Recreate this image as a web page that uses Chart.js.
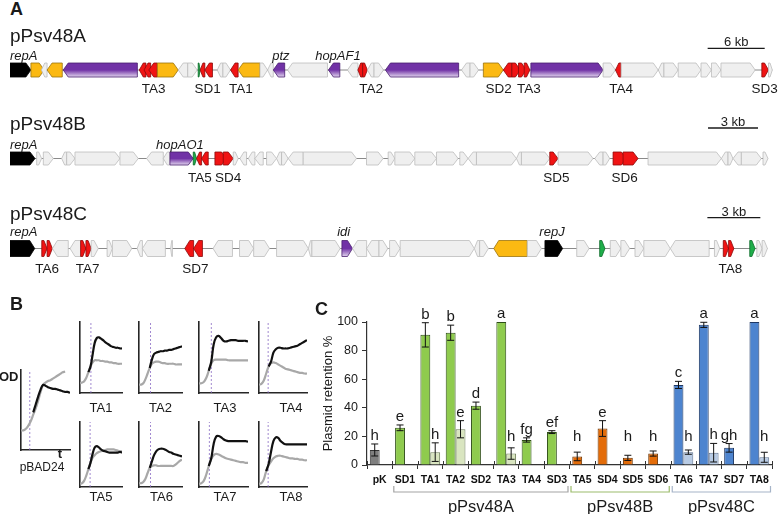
<!DOCTYPE html>
<html>
<head>
<meta charset="utf-8">
<script src="https://cdn.jsdelivr.net/npm/chart.js@4.4.0/dist/chart.umd.min.js"></script>
<style>
body { margin: 0; width: 778px; height: 514px; overflow: hidden; background: #fff; position: relative;
       font-family: "Liberation Sans", Arial, sans-serif; color: #1a1a1a; }
canvas { position: absolute; }
.t { position: absolute; line-height: 1; white-space: nowrap; }
</style>
</head>
<body>
<script>
// ---------- Panel A: gene maps (start kb, end kb, strand, kind) ----------
const genesA = [
  [0,2.2,1,'k'],[2.2,3.6,1,'y'],[3.3,3.9,-1,'g'],[3.9,5.5,-1,'y'],[5.6,13.4,-1,'p'],
  [13.6,14.3,-1,'r'],[14.1,14.8,-1,'r'],[14.6,15.5,-1,'r'],[15.5,17.7,1,'y'],
  [17.7,18.7,-1,'g'],[18.7,19.7,1,'g'],[19.8,20.0,1,'G'],[20.0,20.5,-1,'r'],[20.5,21.3,-1,'r'],
  [21.8,22.4,-1,'g'],[22.4,23.2,1,'g'],[23.2,24.0,-1,'r'],[24.0,26.3,-1,'y'],[26.3,27.1,1,'g'],[27.1,27.7,-1,'g'],
  [27.7,28.9,-1,'p'],[29.2,33.4,-1,'g'],[33.5,34.7,-1,'p'],[35.5,36.6,-1,'g'],[36.6,37.1,-1,'r'],[37.1,37.6,1,'r'],
  [37.6,38.3,-1,'g'],[38.3,39.3,1,'g'],[39.5,47.2,-1,'p'],[47.5,48.4,-1,'g'],[48.4,49.3,1,'g'],[49.8,51.9,1,'y'],
  [51.9,52.8,-1,'r'],[52.8,53.7,1,'r'],[53.5,54.3,1,'r'],[54.1,54.7,1,'r'],[54.8,62.4,1,'p'],[62.4,63.7,1,'g'],
  [63.7,64.3,-1,'r'],[64.3,68.2,1,'g'],[68.2,68.8,-1,'g'],[68.8,70.3,1,'g'],[70.3,72.7,1,'g'],[72.7,73.8,1,'g'],
  [73.8,74.8,1,'g'],[74.8,78.4,1,'g'],[79.1,79.8,1,'r'],[79.8,80.2,1,'g']
];
const labelsA = [['TA3',15.1],['SD1',20.8],['TA1',24.3],['TA2',38.0],['SD2',51.4],['TA3',54.6],['TA4',64.3],['SD3',79.4]];
const namesA = [['repA',0],['ptz',28.5],['hopAF1',34.5]];
const scaleBarA = [73.4, 79.4, '6 kb'];

const genesB = [
  [0,1.5,1,'k'],[1.6,1.9,1,'g'],[2.0,2.6,1,'g'],[3.1,3.4,-1,'g'],[3.4,3.9,1,'g'],[3.9,6.6,1,'g'],[6.6,7.7,1,'g'],
  [8.2,9.2,-1,'g'],[9.2,9.6,-1,'g'],[9.6,11.0,1,'p'],[11.0,11.2,1,'G'],[11.2,11.5,-1,'r'],[11.5,11.9,-1,'r'],
  [12.3,13.0,1,'r'],[12.8,13.4,1,'r'],[13.4,13.7,1,'g'],[13.8,14.2,-1,'g'],[14.3,14.7,-1,'g'],[14.7,15.2,-1,'g'],
  [15.4,16.0,1,'g'],[16.0,16.3,-1,'g'],[16.3,16.7,1,'g'],[16.7,17.6,-1,'g'],[17.6,20.8,1,'g'],[21.4,22.4,1,'g'],
  [22.7,23.1,1,'g'],[23.1,24.3,1,'g'],[24.3,25.6,1,'g'],[25.6,26.9,1,'g'],[27.0,27.5,1,'g'],[27.5,28.0,-1,'g'],
  [28.0,30.4,1,'g'],[30.4,30.7,-1,'g'],[30.7,32.4,1,'g'],[32.4,32.9,1,'r'],[32.9,35.0,1,'g'],[35.1,35.6,-1,'g'],
  [35.6,36.0,1,'g'],[36.2,37.0,1,'r'],[36.8,37.7,1,'r'],[38.3,42.7,1,'g'],[42.7,43.1,-1,'g'],[43.1,43.4,1,'g'],
  [43.4,43.9,-1,'g'],[43.9,45.1,1,'g'],[45.2,45.5,1,'g']
];
const labelsB = [['TA5',11.4],['SD4',13.1],['SD5',32.8],['SD6',36.9]];
const namesB = [['repA',0],['hopAO1',10.2]];
const scaleBarB = [41.9, 44.9, '3 kb'];

const genesC = [
  [0,1.4,1,'k'],[1.8,2.1,1,'r'],[2.1,2.4,1,'r'],[2.4,3.3,-1,'g'],[3.4,4.0,-1,'g'],[4.0,4.3,1,'r'],[4.3,4.6,1,'r'],[4.6,5.0,1,'g'],
  [5.5,5.8,1,'g'],[5.8,6.9,1,'g'],[7.2,7.5,-1,'g'],[7.5,8.8,-1,'g'],[9.1,9.2,-1,'g'],[9.9,10.4,-1,'r'],[10.4,10.9,-1,'r'],
  [11.5,12.6,-1,'g'],[13.0,13.8,1,'g'],[13.8,14.7,1,'g'],[15.1,16.9,1,'g'],[16.9,17.1,-1,'g'],[17.1,18.7,1,'g'],
  [18.8,19.4,1,'p'],[19.4,20.2,-1,'g'],[20.2,20.9,-1,'g'],[20.9,21.4,1,'g'],[21.5,22.1,1,'g'],[22.1,26.3,1,'g'],
  [26.3,26.6,-1,'g'],[26.6,27.1,1,'g'],[27.4,29.3,-1,'y'],[29.3,30.1,1,'g'],[30.3,31.3,1,'k'],[32.1,32.8,1,'g'],
  [33.4,33.7,1,'G'],[34.0,34.6,1,'g'],[34.6,35.1,1,'g'],[35.4,35.9,1,'g'],[35.9,37.4,1,'g'],[37.4,39.6,-1,'g'],
  [39.9,40.2,1,'g'],[40.4,40.7,1,'r'],[40.7,41.0,1,'r'],[41.9,42.2,1,'G'],[42.3,42.6,1,'g'],[42.6,42.9,1,'g']
];
const labelsC = [['TA6',2.1],['TA7',4.4],['SD7',10.5],['TA8',40.8]];
const namesC = [['repA',0],['idi',18.9],['repJ',30.7]];
const scaleBarC = [39.5, 42.5, '3 kb'];

// ---------- Panel B: growth curves (OD, relative units) ----------
const odTime = [0,5,10,15,20,25,30,35,40,45,50,55,60,65,70,75,80,85,90,95,100];
const grayPBAD = [.25,.25,.27,.31,.37,.45,.53,.63,.74,.83,.86,.88,.89,.91,.93,.95,.97,.99,1.0,null,null];
const blackPBAD = [null,null,null,null,null,.48,.58,.68,.77,.83,.82,.80,.79,.78,.78,.77,.76,.75,.74,.74,.73];
const grayTA1 = [.14,.15,.17,.22,.30,.38,.44,.47,.47,.47,.46,.46,.45,.45,.44,.44,.43,.43,.42,.42,.42];
const blackTA1 = [null,null,null,null,.30,.38,.55,.72,.79,.80,.78,.76,.73,.71,.69,.67,.66,.65,.65,.64,.64];
const grayTA2 = [.12,.12,.14,.20,.28,.36,.42,.44,.45,.45,.44,.43,.43,.42,.42,.42,.42,.41,.41,.41,.41];
const blackTA2 = [null,null,null,null,null,.36,.48,.56,.58,.59,.60,.60,.61,.61,.62,.62,.63,.64,.65,.66,.67];
const grayTA3 = [.14,.14,.16,.22,.32,.42,.47,.48,.48,.48,.48,.48,.47,.47,.47,.47,.47,.47,.47,.47,.47];
const blackTA3 = [null,null,null,null,.32,.45,.70,.80,.82,.79,.75,.74,.75,.76,.76,.76,.75,.75,.75,.75,.74];
const grayTA4 = [.12,.13,.18,.28,.38,.43,.44,.43,.41,.39,.37,.35,.34,.33,.32,.31,.30,.29,.29,.28,.28];
const blackTA4 = [null,null,null,null,.38,.45,.58,.63,.65,.65,.64,.64,.64,.65,.66,.67,.68,.70,.72,.74,.76];
const grayTA5 = [.05,.06,.10,.18,.28,.38,.46,.50,.53,.55,.56,.57,.58,.59,.59,.59,.59,.58,.57,.56,.56];
const blackTA5 = [null,null,null,null,.28,.38,.52,.62,.64,.62,.59,.57,.56,.55,.54,.54,.54,.54,.54,.55,.54];
const grayTA6 = [.06,.06,.08,.13,.22,.30,.33,.34,.34,.33,.33,.33,.33,.33,.33,.33,.33,.35,.38,.41,.43];
const blackTA6 = [null,null,null,null,null,.30,.40,.50,.56,.59,.60,.60,.59,.57,.55,.54,.52,.51,.50,.49,.48];
const grayTA7 = [.05,.06,.10,.20,.33,.44,.50,.52,.51,.49,.47,.45,.44,.43,.42,.41,.40,.39,.39,.38,.38];
const blackTA7 = [null,null,null,null,.33,.45,.68,.79,.80,.78,.75,.73,.72,.72,.72,.72,.72,.72,.72,.72,.71];
const grayTA8 = [.05,.06,.12,.25,.34,.40,.45,.48,.49,.49,.48,.47,.46,.45,.45,.44,.44,.43,.43,.42,.42];
const blackTA8 = [null,null,null,.25,.36,.55,.72,.78,.77,.72,.69,.67,.67,.67,.67,.67,.67,.67,.67,.67,.67];
const inductionTime = [18, 26, 27, 25, 19, 24, 27, 21, 19];

// ---------- Panel C: plasmid retention ----------
const retCats = ['pK','SD1','TA1','TA2','SD2','TA3','TA4','SD3','TA5','SD4','SD5','SD6','TA6','TA7','SD7','TA8'];
const retMain = [10.5,26,91,92.5,41.5,100,17.5,23,6,25.5,5,8,56,98,12,100];
const retMainErr = [4.2,2,8.5,5.3,2.5,0,1.5,1,3,5.5,1.8,1.8,2.5,1.8,3,0];
const retLight = [null,null,9,25,null,8,null,null,null,null,null,null,9,8.6,null,5.4];
const retLightErr = [null,null,6.5,6,null,4,null,null,null,null,null,null,1.5,6.5,null,3.5];
const retMainLetters = ['h','e','b','b','d','a','fg','ef','h','e','h','h','c','a','gh','a'];
const retLightLetters = [null,null,'h','e',null,'h',null,null,null,null,null,null,'h','h',null,'h'];
const plasmidNames = ['pPsv48A','pPsv48B','pPsv48C'];
const plasmidFirst = [1, 8, 12];
const plasmidLast = [7, 11, 15];

// ---------- helpers ----------
const FONT = '"Liberation Sans", Arial, sans-serif';
Chart.defaults.font.family = FONT;
Chart.defaults.color = '#1a1a1a';

function addText(str, x, cy, size, opt = {}) {
  const d = document.createElement('div');
  d.className = 't';
  d.textContent = str;
  d.style.fontSize = size + 'px';
  d.style.top = (cy - size / 2) + 'px';
  d.style.left = x + 'px';
  if (opt.bold) d.style.fontWeight = 'bold';
  if (opt.center) d.style.transform = 'translateX(-50%)';
  document.body.appendChild(d);
}

function makeCanvas(x, y, w, h) {
  const c = document.createElement('canvas');
  c.width = w; c.height = h;
  c.style.left = x + 'px'; c.style.top = y + 'px';
  c.style.width = w + 'px'; c.style.height = h + 'px';
  document.body.appendChild(c);
  return c;
}

const geneFill = { k: '#000000', y: '#fbb912', r: '#f01414', G: '#1fae4a', g: '#efefef' };
const geneLine = { k: '#000000', y: '#9a7410', r: '#8a0a0a', G: '#0c6a2a', p: '#4a1f70', g: '#bdbdbd' };

// draws genes, labels and scale bar with the chart's x scale (kb)
const geneMapPlugin = {
  id: 'geneMap',
  afterDraw(chart, args, o) {
    const ctx = chart.ctx, xs = chart.scales.x, top = chart.chartArea.top;
    const px = v => xs.getPixelForValue(v);
    const yc = top + o.yTrack, h = o.h;
    ctx.save();
    // backbone
    ctx.strokeStyle = '#8a8a8a'; ctx.lineWidth = 1;
    ctx.beginPath(); ctx.moveTo(px(0), yc); ctx.lineTo(px(o.genes[o.genes.length - 1][1]), yc); ctx.stroke();
    // genes
    o.genes.forEach(g => {
      const x0 = px(g[0]), x1 = px(g[1]), tip = Math.min(5, (x1 - x0) * 0.6);
      ctx.beginPath();
      if (g[2] > 0) {
        ctx.moveTo(x0, yc - h / 2); ctx.lineTo(x1 - tip, yc - h / 2); ctx.lineTo(x1, yc);
        ctx.lineTo(x1 - tip, yc + h / 2); ctx.lineTo(x0, yc + h / 2);
      } else {
        ctx.moveTo(x1, yc - h / 2); ctx.lineTo(x0 + tip, yc - h / 2); ctx.lineTo(x0, yc);
        ctx.lineTo(x0 + tip, yc + h / 2); ctx.lineTo(x1, yc + h / 2);
      }
      ctx.closePath();
      if (g[3] === 'p') {
        const gr = ctx.createLinearGradient(0, yc - h / 2, 0, yc + h / 2);
        gr.addColorStop(0, '#7132a6'); gr.addColorStop(0.5, '#7132a6'); gr.addColorStop(1, '#e2d6ee');
        ctx.fillStyle = gr;
      } else {
        ctx.fillStyle = geneFill[g[3]];
      }
      ctx.fill();
      ctx.strokeStyle = geneLine[g[3]]; ctx.lineWidth = 0.8; ctx.stroke();
    });
    // labels under the map
    ctx.fillStyle = '#1a1a1a';
    ctx.textBaseline = 'alphabetic'; ctx.textAlign = 'center';
    ctx.font = '13.5px ' + FONT;
    o.labels.forEach(l => ctx.fillText(l[0], px(l[1]), top + o.yLabel));
    // gene names above
    ctx.font = 'italic 13px ' + FONT;
    o.names.forEach(n => {
      ctx.textAlign = n[1] === 0 ? 'left' : 'center';
      ctx.fillText(n[0], px(n[1]), top + o.yName);
    });
    // scale bar
    const sb = o.scaleBar;
    ctx.strokeStyle = '#1a1a1a'; ctx.lineWidth = 1.3;
    ctx.beginPath(); ctx.moveTo(px(sb[0]), top + o.yBar); ctx.lineTo(px(sb[1]), top + o.yBar); ctx.stroke();
    ctx.textAlign = 'center'; ctx.font = '13px ' + FONT;
    ctx.fillText(sb[2], (px(sb[0]) + px(sb[1])) / 2, top + o.yBarText);
    ctx.restore();
  }
};

function geneMap(y, height, maxKb, cfg) {
  new Chart(makeCanvas(10, y, 768, height), {
    type: 'scatter',
    data: { datasets: [{ data: [] }] },
    options: {
      responsive: false, animation: false, devicePixelRatio: 1,
      layout: { padding: 0 },
      plugins: { legend: { display: false }, tooltip: { enabled: false }, geneMap: cfg },
      scales: {
        x: { type: 'linear', min: 0, max: maxKb, display: false },
        y: { min: 0, max: 1, display: false }
      }
    },
    plugins: [geneMapPlugin]
  });
}

geneMap(36, 62, 80.8, { genes: genesA, labels: labelsA, names: namesA, scaleBar: scaleBarA,
  h: 14, yTrack: 34, yLabel: 57, yName: 24, yBar: 12.3, yBarText: 10 });
geneMap(113, 72, 46.1, { genes: genesB, labels: labelsB, names: namesB, scaleBar: scaleBarB,
  h: 13, yTrack: 45.5, yLabel: 69, yName: 36, yBar: 15, yBarText: 13 });
geneMap(200, 78, 43.5, { genes: genesC, labels: labelsC, names: namesC, scaleBar: scaleBarC,
  h: 16, yTrack: 48.5, yLabel: 73, yName: 36, yBar: 17.7, yBarText: 16 });

addText('A', 10, 9, 18, { bold: true });
addText('pPsv48A', 10, 35, 19);
addText('pPsv48B', 10, 123.5, 19);
addText('pPsv48C', 10, 213, 19);

// ---------- Panel B ----------
function odChart(x, y, w, h, gray, black, tInd) {
  const pts = arr => arr.map((v, i) => ({ x: odTime[i], y: v }));
  const axis = (horizontal) => ({
    type: 'linear', min: 0, max: horizontal ? 100 : 1.02,
    grid: { display: false, drawTicks: false },
    ticks: { display: false },
    border: { display: true, color: '#262626', width: 1.6 },
    afterFit: s => { if (horizontal) s.height = 0; else s.width = 0; }
  });
  new Chart(makeCanvas(x - 3, y - 3, w + 6, h + 6), {
    type: 'line',
    data: {
      datasets: [
        { data: pts(black), borderColor: '#111111', borderWidth: 2.2, pointRadius: 0, tension: 0.4, spanGaps: false },
        { data: pts(gray), borderColor: '#a8a8a8', borderWidth: 2.2, pointRadius: 0, tension: 0.4 },
        { data: [{ x: tInd, y: 0 }, { x: tInd, y: 1.02 }], borderColor: '#8a6cc4', borderWidth: 0.8,
          borderDash: [2, 2], pointRadius: 0 }
      ]
    },
    options: {
      responsive: false, animation: false, devicePixelRatio: 1,
      layout: { padding: 3 },
      plugins: { legend: { display: false }, tooltip: { enabled: false } },
      scales: { x: axis(true), y: axis(false) }
    }
  });
}

odChart(21, 370, 49, 80, grayPBAD, blackPBAD, inductionTime[0]);
odChart(80, 322, 42, 71, grayTA1, blackTA1, inductionTime[1]);
odChart(139, 322, 43, 71, grayTA2, blackTA2, inductionTime[2]);
odChart(199, 322, 49, 71, grayTA3, blackTA3, inductionTime[3]);
odChart(259, 322, 48, 71, grayTA4, blackTA4, inductionTime[4]);
odChart(80, 422, 42, 65, grayTA5, blackTA5, inductionTime[5]);
odChart(139, 422, 43, 65, grayTA6, blackTA6, inductionTime[6]);
odChart(199, 422, 49, 65, grayTA7, blackTA7, inductionTime[7]);
odChart(259, 422, 48, 65, grayTA8, blackTA8, inductionTime[8]);

addText('B', 10, 303.5, 18, { bold: true });
addText('OD', -1, 376, 13, { bold: true });
addText('t', 60, 453, 13, { bold: true, center: true });
addText('pBAD24', 42, 467, 12, { center: true });
addText('TA1', 101, 407, 13, { center: true });
addText('TA2', 160.5, 407, 13, { center: true });
addText('TA3', 225, 407, 13, { center: true });
addText('TA4', 291, 407, 13, { center: true });
addText('TA5', 101, 496, 13, { center: true });
addText('TA6', 161.5, 496, 13, { center: true });
addText('TA7', 225, 496, 13, { center: true });
addText('TA8', 291, 496, 13, { center: true });

// ---------- Panel C ----------
const mainFill = ['#7f7f7f', '#8fcb4e', '#e36c09', '#4d84cf'];
const mainEdge = ['#333333', '#2e4d17', '#6b3300', '#1f3864'];
const lightFill = ['#d9d9d9', '#d9e5c0', '#f6c9a3', '#b8cbe4'];
const lightEdge = ['#666666', '#6e7f58', '#8a6040', '#5f7391'];
const groupOf = i => plasmidFirst.findIndex((s, g) => i >= s && i <= plasmidLast[g]) + 1;
const groupColor = ['#a3a3a3', '#9cbc6c', '#a6b4c8'];

const retPlugin = {
  id: 'retDecor',
  afterDatasetsDraw(chart) {
    const ctx = chart.ctx, ys = chart.scales.y;
    const sets = [[retMain, retMainErr, retMainLetters], [retLight, retLightErr, retLightLetters]];
    ctx.save();
    sets.forEach((s, d) => {
      const meta = chart.getDatasetMeta(d);
      s[0].forEach((v, i) => {
        if (v === null) return;
        const bx = meta.data[i].x, e = s[1][i];
        if (e > 0) {
          const yt = ys.getPixelForValue(v + e), yb = ys.getPixelForValue(v - e);
          ctx.strokeStyle = '#111'; ctx.lineWidth = 1;
          ctx.beginPath();
          ctx.moveTo(bx, yt); ctx.lineTo(bx, yb);
          ctx.moveTo(bx - 3.5, yt); ctx.lineTo(bx + 3.5, yt);
          ctx.moveTo(bx - 3.5, yb); ctx.lineTo(bx + 3.5, yb);
          ctx.stroke();
        }
        const top = Math.min(ys.getPixelForValue(v + (e || 0)), ys.getPixelForValue(14));
        ctx.fillStyle = '#1a1a1a'; ctx.font = '15px ' + FONT;
        ctx.textAlign = 'center'; ctx.textBaseline = 'alphabetic';
        ctx.fillText(s[2][i], bx, top - 4);
      });
    });
    ctx.restore();
  },
  afterDraw(chart) {
    const ctx = chart.ctx, xs = chart.scales.x, area = chart.chartArea;
    const half = (xs.getPixelForValue(1) - xs.getPixelForValue(0)) / 2;
    ctx.save();
    // tick marks also reach a little above the axis
    ctx.strokeStyle = '#333'; ctx.lineWidth = 1;
    ctx.beginPath();
    for (let i = 0; i <= retCats.length; i++) {
      const x = Math.round(xs.getPixelForValue(i) - half) + 0.5;
      ctx.moveTo(x, area.bottom - 4); ctx.lineTo(x, area.bottom);
    }
    ctx.stroke();
    plasmidNames.forEach((name, g) => {
      const x0 = xs.getPixelForValue(plasmidFirst[g]) - half + 1.5;
      const x1 = xs.getPixelForValue(plasmidLast[g]) + half - 1.5;
      const yb = area.bottom + 27;
      ctx.strokeStyle = groupColor[g]; ctx.lineWidth = 1.2;
      ctx.beginPath();
      ctx.moveTo(x0, area.bottom + 21); ctx.lineTo(x0, yb); ctx.lineTo(x1, yb); ctx.lineTo(x1, area.bottom + 21);
      ctx.stroke();
      ctx.fillStyle = '#1a1a1a'; ctx.font = '16.5px ' + FONT;
      ctx.textAlign = 'center'; ctx.textBaseline = 'alphabetic';
      ctx.fillText(name, (x0 + x1) / 2, area.bottom + 47);
    });
    ctx.restore();
  }
};

new Chart(makeCanvas(300, 295, 478, 219), {
  type: 'bar',
  data: {
    labels: retCats,
    datasets: [
      { data: retMain, backgroundColor: retCats.map((_, i) => mainFill[groupOf(i)]),
        borderColor: retCats.map((_, i) => mainEdge[groupOf(i)]), borderWidth: 1,
        categoryPercentage: 0.78, barPercentage: 1 },
      { data: retLight, backgroundColor: retCats.map((_, i) => lightFill[groupOf(i)]),
        borderColor: retCats.map((_, i) => lightEdge[groupOf(i)]), borderWidth: 1,
        categoryPercentage: 0.78, barPercentage: 1 }
    ]
  },
  options: {
    responsive: false, animation: false, devicePixelRatio: 1,
    layout: { padding: { top: 27, right: 6, left: 0, bottom: 0 } },
    plugins: { legend: { display: false }, tooltip: { enabled: false } },
    scales: {
      x: {
        grid: { offset: true, drawOnChartArea: false, tickLength: 4, color: '#333' },
        border: { color: '#333', width: 1.2 },
        ticks: { font: { size: 10.5, weight: 'bold' }, color: '#111', padding: 5, maxRotation: 0, autoSkip: false },
        afterFit: s => { s.height = 49; }
      },
      y: {
        min: 0, max: 100,
        grid: { drawOnChartArea: false, tickLength: 5, color: '#333' },
        border: { color: '#333', width: 1.2 },
        ticks: { stepSize: 20, font: { size: 12.5 }, color: '#1a1a1a', padding: 4 },
        title: { display: true, text: 'Plasmid retention %', font: { size: 13 }, color: '#1a1a1a', padding: { top: 21, bottom: 0 } },
        afterFit: s => { s.width = 67; }
      }
    }
  },
  plugins: [retPlugin]
});

addText('C', 315, 308.5, 18, { bold: true });
</script>
</body>
</html>
